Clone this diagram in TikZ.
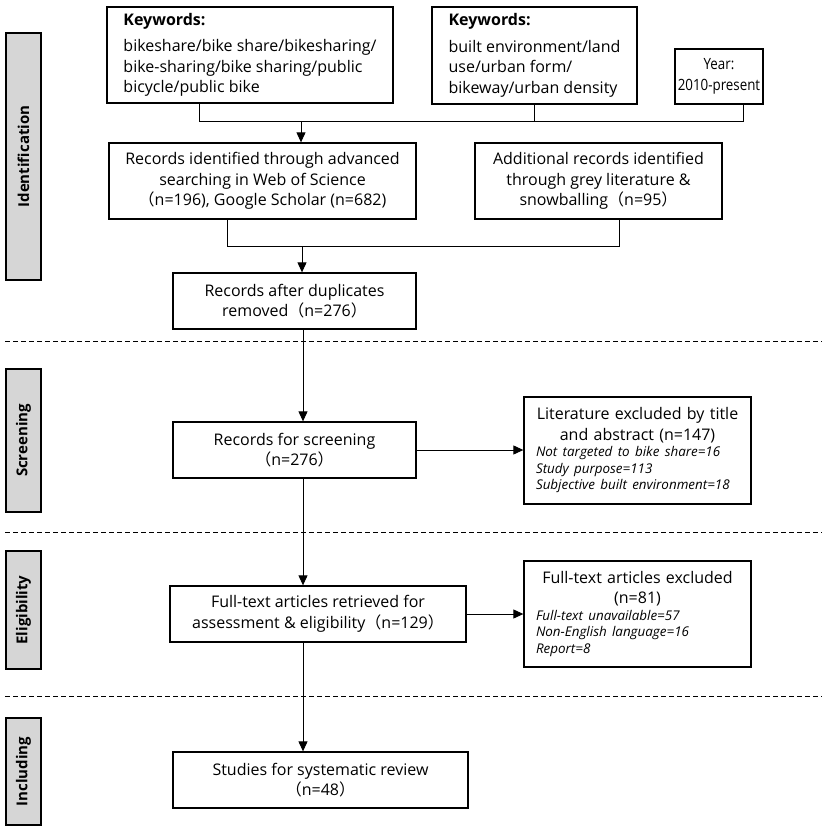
\documentclass[tikz,border=0pt]{standalone}
\usepackage{fontspec}
\setmainfont{Open Sans}
\newfontfamily\cjk{Noto Sans CJK SC}
\usetikzlibrary{arrows.meta}
\newcommand\flp{{\cjk （}}
\newcommand\frp{{\cjk ）}}
\tikzset{
  box/.style={draw, line width=1.3pt, inner sep=0pt, align=center,
    font=\fontsize{16}{20.5}\selectfont},
  side/.style={draw, line width=1.3pt, fill=gray!32, inner sep=0pt},
  sidetext/.style={rotate=90, font=\bfseries\fontsize{15}{18}\selectfont},
  conn/.style={line width=1pt},
  arr/.style={line width=1pt, -{Triangle[length=10pt,width=9pt]}},
  sep/.style={line width=0.9pt, dash pattern=on 5pt off 3pt},
}
\begin{document}
\begin{tikzpicture}[x=1pt,y=-1pt]
\useasboundingbox (0,0) rectangle (829,829);
% side labels
\node[side, minimum width=35pt, minimum height=247pt] (sid) at (23.5,156.5) {};
\node[sidetext] (sidt) at (sid.center) {Identification};
\node[side, minimum width=35pt, minimum height=143pt] (ssc) at (23.5,440.5) {};
\node[sidetext] (ssct) at (ssc.center) {Screening};
\node[side, minimum width=35pt, minimum height=118pt] (sel) at (23.5,610) {};
\node[sidetext] (selt) at (sel.center) {Eligibility};
\node[side, minimum width=35pt, minimum height=107pt] (sin) at (23.5,771.5) {};
\node[sidetext] (sint) at (sin.center) {Including};
% dashed separators
\coordinate (d1a) at (5,341); \coordinate (d1b) at (822,341);
\coordinate (d2a) at (5,532); \coordinate (d2b) at (822,532);
\coordinate (d3a) at (5,696); \coordinate (d3b) at (822,696);
\draw[sep] (d1a) -- (d1b);
\draw[sep] (d2a) -- (d2b);
\draw[sep] (d3a) -- (d3b);
% boxes
\node[box, minimum width=286pt, minimum height=96pt, align=left] (k1) at (250,55)
  {\textbf{Keywords:}\\[6pt]bikeshare/bike share/bikesharing/\\bike-sharing/bike sharing/public\\bicycle/public bike};
\node[box, minimum width=205pt, minimum height=97pt, align=left] (k2) at (534.5,55.5)
  {\textbf{Keywords:}\\[6pt]built environment/land\\use/urban form/\\bikeway/urban density};
\node[box, minimum width=88pt, minimum height=55pt,
  font=\fontsize{15.5}{20.5}\selectfont\addfontfeature{FakeStretch=0.86}] (yr) at (719,76.5) {Year:\\2010-present};
\node[box, minimum width=307pt, minimum height=76pt] (r1) at (262.5,181)
  {Records identified through advanced\\searching in Web of Science\\\flp n=196), Google Scholar (n=682)};
\node[box, minimum width=247pt, minimum height=76pt] (r2) at (598.5,181)
  {Additional records identified\\through grey literature \&\\snowballing\flp n=95\frp};
\node[box, minimum width=243pt, minimum height=56pt] (r3) at (294.5,301)
  {Records after duplicates\\removed\flp n=276\frp};
\node[box, minimum width=243pt, minimum height=56pt] (r4) at (294.5,450)
  {Records for screening\\\flp n=276\frp};
\node[box, minimum width=227pt, minimum height=107pt, text width=203pt] (e1) at (637.5,450.5)
  {\centering Literature excluded by title\\and abstract (n=147)\par
   \raggedright\itshape\fontsize{13.4}{16.5}\selectfont Not targeted to bike share=16\\Study purpose=113\\Subjective built environment=18\par};
\node[box, minimum width=296pt, minimum height=56pt] (r5) at (318,614)
  {Full-text articles retrieved for\\assessment \& eligibility\flp n=129\frp};
\node[box, minimum width=227pt, minimum height=106pt, text width=203pt] (e2) at (637.5,614)
  {\centering Full-text articles excluded\\(n=81)\par
   \raggedright\itshape\fontsize{13.4}{16.5}\selectfont Full-text unavailable=57\\Non-English language=16\\Report=8\par};
\node[box, minimum width=295pt, minimum height=56pt] (r6) at (320.5,780)
  {Studies for systematic review\\\flp n=48\frp};
% connectors: keywords merge
\coordinate (j1) at (199,122);
\coordinate (j2) at (743,122);
\coordinate (ja) at (301,122);
\draw[conn] (k1.south -| j1) -- (j1) -- (j2) -- (yr.south -| j2);
\draw[conn] (k2.south) -- (k2.south |- j1);
\draw[arr] (ja) -- (ja |- r1.north);
% records merge
\coordinate (m1) at (227,246);
\coordinate (m2) at (619,246);
\coordinate (ma) at (302,246);
\draw[conn] (r1.south -| m1) -- (m1) -- (m2) -- (r2.south -| m2);
\draw[arr] (ma) -- (ma |- r3.north);
% main flow
\coordinate (v) at (303,0);
\draw[arr] (r3.south -| v) -- (r4.north -| v);
\draw[arr] (r4.south -| v) -- (r5.north -| v);
\draw[arr] (r5.south -| v) -- (r6.north -| v);
% exclusions
\draw[arr] (r4.east) -- (r4.east -| e1.west);
\draw[arr] (r5.east) -- (r5.east -| e2.west);
\end{tikzpicture}
\end{document}
